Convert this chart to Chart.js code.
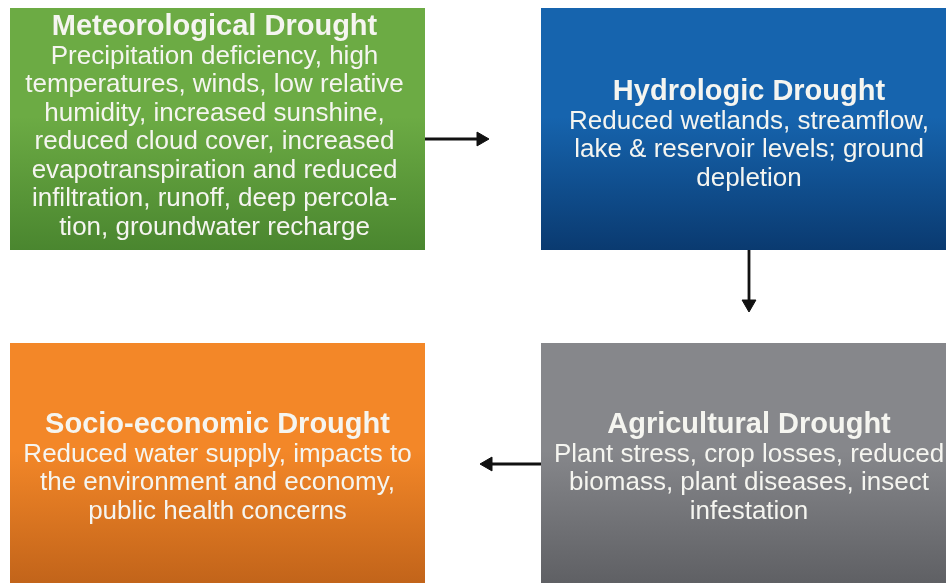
<!DOCTYPE html>
<html>
<head>
<meta charset="utf-8">
<script src="https://cdn.jsdelivr.net/npm/chart.js@4.4.1/dist/chart.umd.min.js"></script>
<style>
  html, body { margin: 0; padding: 0; background: #fff; }
  #wrap { width: 946px; height: 583px; }
</style>
</head>
<body>
<div id="wrap"><canvas id="myChart"></canvas></div>
<script>
// the four drought types and what goes in each box
var titles = ['Meteorological Drought', 'Hydrologic Drought', 'Agricultural Drought', 'Socio-economic Drought'];
var descriptions = [
    ['Precipitation deficiency, high', 'temperatures, winds, low relative', 'humidity, increased sunshine,',
     'reduced cloud cover, increased', 'evapotranspiration and reduced', 'infiltration, runoff, deep percola-',
     'tion, groundwater recharge'],
    ['Reduced wetlands, streamflow,', 'lake & reservoir levels; ground', 'depletion'],
    ['Plant stress, crop losses, reduced', 'biomass, plant diseases, insect', 'infestation'],
    ['Reduced water supply, impacts to', 'the environment and economy,', 'public health concerns']
];

// layout, in the 946 x 583 units of the hidden axes
var boxLeft = [10, 541, 541, 10];
var boxRight = [425, 957, 957, 425];
var boxTop = [8, 8, 343, 343];
var boxBottom = [250, 250, 583, 583];
var textShiftX = [-3, 0, 0, 0];
var textShiftY = [6, 14, 13, 13];
var boxColors = [['#6cab44', '#4a862f'], ['#1664ae', '#0a3a70'], ['#86878b', '#5f6064'], ['#f38728', '#c2641a']];

// arrows: start, head centre, head direction
var arrowFrom = [[425, 139], [749, 250], [541, 464]];
var arrowTo = [[481, 139], [749, 304], [488, 464]];
var arrowAngle = [90, 180, 270];

const lineHeight = 28.5;

const boxesPlugin = {
    id: 'boxes',
    beforeDatasetsDraw(chart) {
        const ctx = chart.ctx;
        const xs = chart.scales.x;
        const ys = chart.scales.y;
        const area = chart.chartArea;
        ctx.save();
        ctx.beginPath();
        ctx.rect(area.left, area.top, area.right - area.left, area.bottom - area.top);
        ctx.clip();
        titles.forEach((title, i) => {
            const x0 = xs.getPixelForValue(boxLeft[i]);
            const x1 = xs.getPixelForValue(boxRight[i]);
            const y0 = ys.getPixelForValue(boxTop[i]);
            const y1 = ys.getPixelForValue(boxBottom[i]);
            const grad = ctx.createLinearGradient(0, y0, 0, y1);
            grad.addColorStop(0, boxColors[i][0]);
            grad.addColorStop(0.45, boxColors[i][0]);
            grad.addColorStop(1, boxColors[i][1]);
            ctx.fillStyle = grad;
            ctx.fillRect(x0, y0, x1 - x0, y1 - y0);

            const lines = [title].concat(descriptions[i]);
            const cx = (x0 + x1) / 2 + textShiftX[i];
            const cy = (y0 + y1) / 2;
            ctx.fillStyle = '#f5f5f0';
            ctx.textAlign = 'center';
            ctx.textBaseline = 'alphabetic';
            lines.forEach((line, k) => {
                ctx.font = k == 0 ? 'bold 29px "Liberation Sans", Arial, sans-serif' : '26px "Liberation Sans", Arial, sans-serif';
                const ty = cy + (k - (lines.length - 1) / 2) * lineHeight + textShiftY[i];
                ctx.fillText(line, cx, ty);
            });
        });
        ctx.restore();
    }
};

const arrowSets = arrowFrom.map((from, i) => ({
    data: [{x: from[0], y: from[1]}, {x: arrowTo[i][0], y: arrowTo[i][1]}],
    showLine: true,
    borderColor: '#111111',
    borderWidth: 2.8,
    pointStyle: 'triangle',
    pointRadius: [0, 8],
    rotation: [0, arrowAngle[i]],
    pointBackgroundColor: '#111111',
    pointBorderColor: '#111111',
    pointBorderWidth: 1
}));

const ctx = document.getElementById('myChart').getContext('2d');
const myChart = new Chart(ctx, {
    type: 'scatter',
    data: { datasets: arrowSets },
    options: {
        responsive: true,
        maintainAspectRatio: false,
        animation: false,
        events: [],
        layout: { padding: 0, autoPadding: false },
        plugins: {
            legend: { display: false },
            tooltip: { enabled: false }
        },
        scales: {
            x: { type: 'linear', min: 0, max: 946, display: false },
            y: { type: 'linear', min: 0, max: 583, reverse: true, display: false }
        }
    },
    plugins: [boxesPlugin]
});
</script>
</body>
</html>
